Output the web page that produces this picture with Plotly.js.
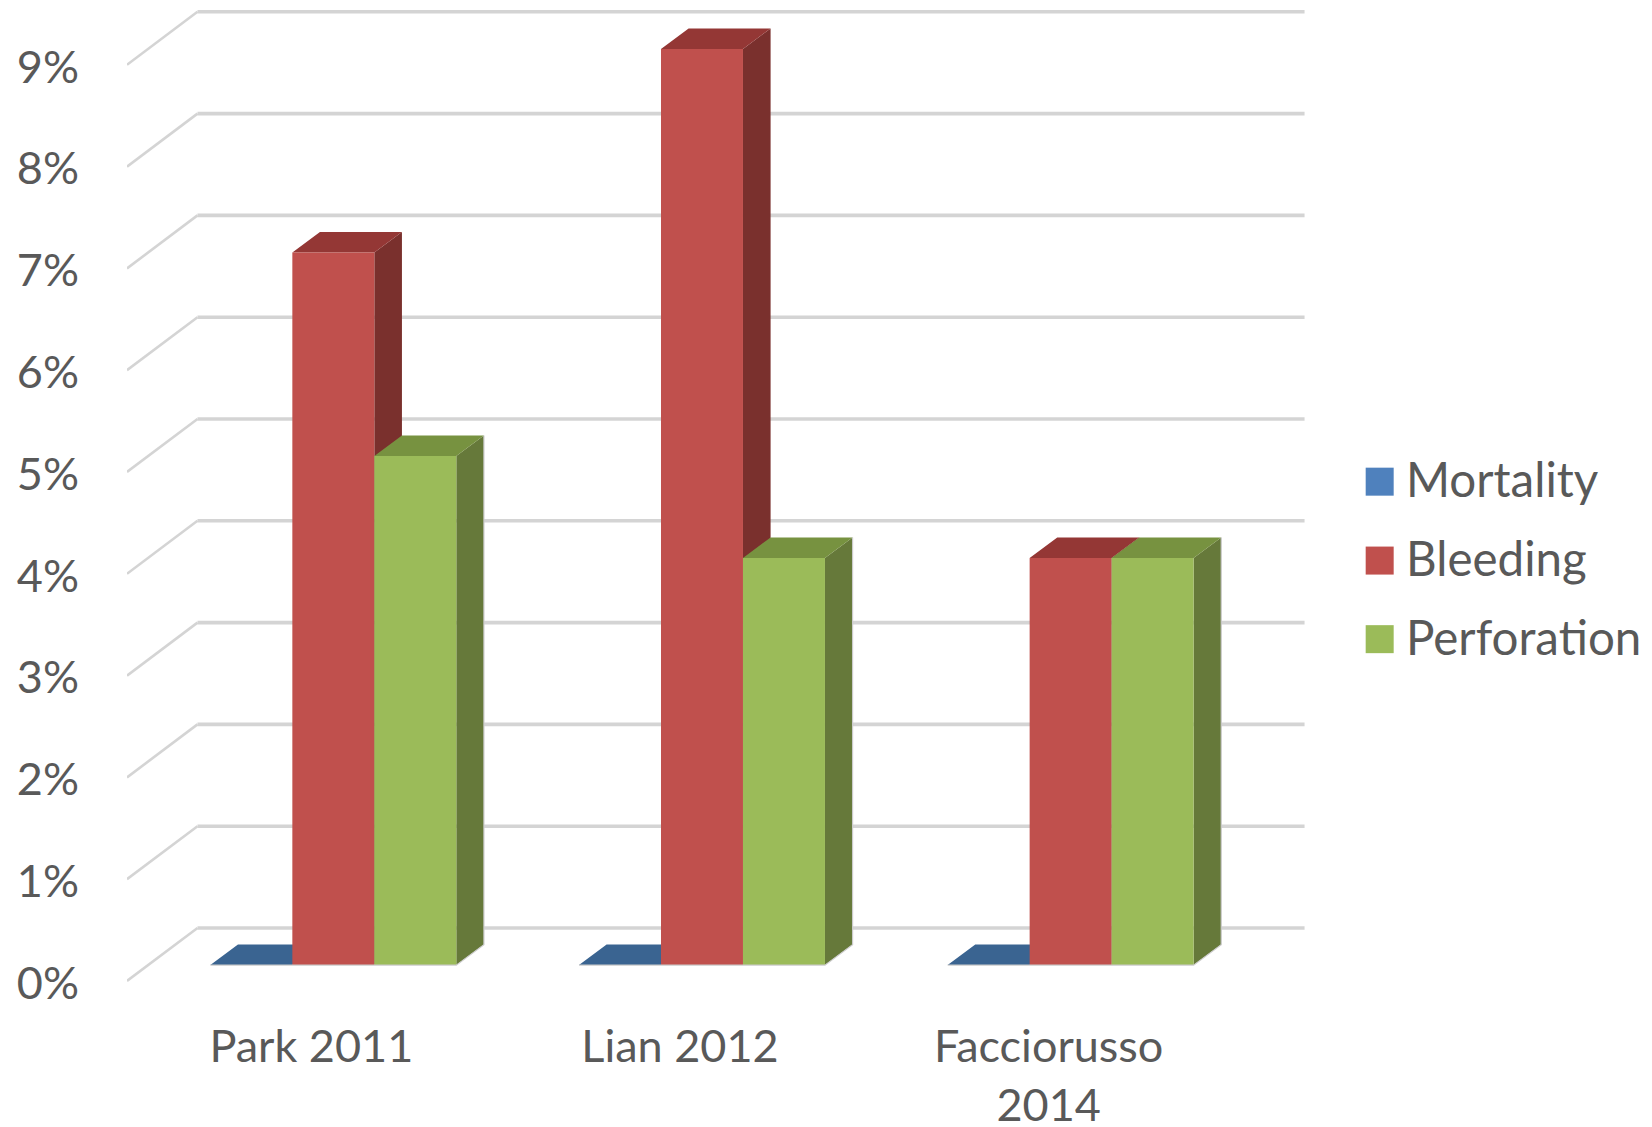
<!DOCTYPE html>
<html>
<head>
<meta charset="utf-8">
<script src="https://cdn.plot.ly/plotly-3.0.1.min.js"></script>
<style>html,body{margin:0;padding:0;background:#fff}#chart{width:1652px;height:1127px}</style>
</head>
<body>
<div id="chart"></div>
<script>
// Complication rates per study, in percent
var categories = ['Park 2011', 'Lian 2012', 'Facciorusso<br>2014'];
var mortality = [0, 0, 0];
var bleeding = [7, 9, 4];
var perforation = [5, 4, 4];
var percentTicks = [0, 1, 2, 3, 4, 5, 6, 7, 8, 9];

var seriesNames = ['Mortality', 'Bleeding', 'Perforation'];
var seriesValues = [mortality, bleeding, perforation];
var frontColors = ['#4F81BD', '#C0504D', '#9BBB59'];
var topColors = ['#3A6491', '#943735', '#779240'];
var sideColors = ['#2F4F75', '#7A302D', '#66793A'];

// Oblique projection: depth vectors in axis units (categories, percent)
var wallDepth = [0.1912, 0.5206];
var floorShift = [0.0597, 0.156];
var barDepth = [0.0749, 0.2014];
var barWidth = 0.2224;

var textColor = '#595959';
var gridColor = '#D4D4D4';
var edgeColor = '#CCCCCC';
var fontFace = 'Lato, Carlito, sans-serif';
var traces = [];

// Back-wall rules and the slanted floor-to-wall guides, one pair per percent level
var wallX = [], wallY = [], guideX = [], guideY = [];
percentTicks.forEach(function (p) {
  wallX.push(-0.5 + wallDepth[0], 2.503 + wallDepth[0], null);
  wallY.push(p + wallDepth[1], p + wallDepth[1], null);
  guideX.push(-0.5, -0.5 + wallDepth[0], null);
  guideY.push(p, p + wallDepth[1], null);
});
traces.push({
  x: wallX, y: wallY, mode: 'lines', hoverinfo: 'skip', showlegend: false,
  line: {color: gridColor, width: 3.6}
});
traces.push({
  x: guideX, y: guideY, mode: 'lines', hoverinfo: 'skip', showlegend: false,
  line: {color: gridColor, width: 2.6}
});

function facePolygons(values, seriesIndex, kind) {
  var xs = [], ys = [];
  values.forEach(function (v, c) {
    var left = c - barWidth * 1.5 + floorShift[0] + seriesIndex * barWidth;
    var right = left + barWidth;
    var base = floorShift[1];
    var top = v + base;
    var pts;
    if (kind === 'front') {
      pts = [[left, base], [right, base], [right, top], [left, top]];
    } else if (kind === 'top') {
      pts = [[left, top], [right, top], [right + barDepth[0], top + barDepth[1]], [left + barDepth[0], top + barDepth[1]]];
    } else {
      pts = [[right, base], [right + barDepth[0], base + barDepth[1]], [right + barDepth[0], top + barDepth[1]], [right, top]];
    }
    pts.concat([pts[0]]).forEach(function (p) { xs.push(p[0]); ys.push(p[1]); });
    xs.push(null); ys.push(null);
  });
  return {x: xs, y: ys};
}

// Painted back to front: each series' side, top, then front face
seriesValues.forEach(function (values, s) {
  [['side', sideColors[s]], ['top', topColors[s]], ['front', frontColors[s]]].forEach(function (face) {
    var poly = facePolygons(values, s, face[0]);
    traces.push({
      x: poly.x, y: poly.y, mode: 'lines', fill: 'toself', fillcolor: face[1],
      line: {width: 0, color: face[1]}, name: seriesNames[s], hoverinfo: 'skip', showlegend: false
    });
  });
});

// Thin pale edge along the base and the outer side of each cluster
var edgeX = [], edgeY = [];
perforation.forEach(function (v, c) {
  var clusterLeft = c - barWidth * 1.5 + floorShift[0];
  var clusterRight = clusterLeft + 3 * barWidth;
  var base = floorShift[1];
  var sideTop = v + base + barDepth[1];
  edgeX.push(clusterLeft, clusterRight, clusterRight + barDepth[0], clusterRight + barDepth[0], null);
  edgeY.push(base, base, base + barDepth[1], sideTop, null);
});
traces.push({
  x: edgeX, y: edgeY, mode: 'lines', hoverinfo: 'skip', showlegend: false,
  line: {color: edgeColor, width: 1.2}
});

// Series key to the right of the plot
var keyX = 2.898, keyTextX = 2.964;
var keyY = [4.905, 4.13, 3.358];
seriesNames.forEach(function (name, s) {
  traces.push({
    x: [keyX], y: [keyY[s]], mode: 'markers', name: name, showlegend: false, hoverinfo: 'skip',
    marker: {symbol: 'square', size: 28, color: frontColors[s]}
  });
});
var keyLabels = seriesNames.map(function (name, s) {
  return {
    x: keyTextX, y: keyY[s], text: name, showarrow: false, xanchor: 'left', yanchor: 'middle',
    yshift: 3, font: {family: fontFace, size: 47.5, color: textColor}
  };
});

var layout = {
  width: 1652, height: 1127,
  paper_bgcolor: '#fff', plot_bgcolor: '#fff',
  margin: {l: 127, r: 0, t: 0, b: 127},
  showlegend: false,
  xaxis: {
    range: [-0.5, 3.6367], tickvals: [0, 1, 2], ticktext: categories,
    showgrid: false, zeroline: false, showline: false, ticks: '',
    ticklabelstandoff: 16, tickangle: 0,
    tickfont: {family: fontFace, size: 45, color: textColor}
  },
  yaxis: {
    range: [-0.1866, 9.6365], tickvals: percentTicks,
    ticktext: percentTicks.map(function (p) { return p + '%'; }),
    showgrid: false, zeroline: false, showline: false, ticks: '',
    ticklabelstandoff: 47, ticklabelshift: 2,
    tickfont: {family: fontFace, size: 45, color: textColor}
  },
  annotations: keyLabels
};

Plotly.newPlot('chart', traces, layout, {displayModeBar: false, staticPlot: true});
</script>
</body>
</html>
